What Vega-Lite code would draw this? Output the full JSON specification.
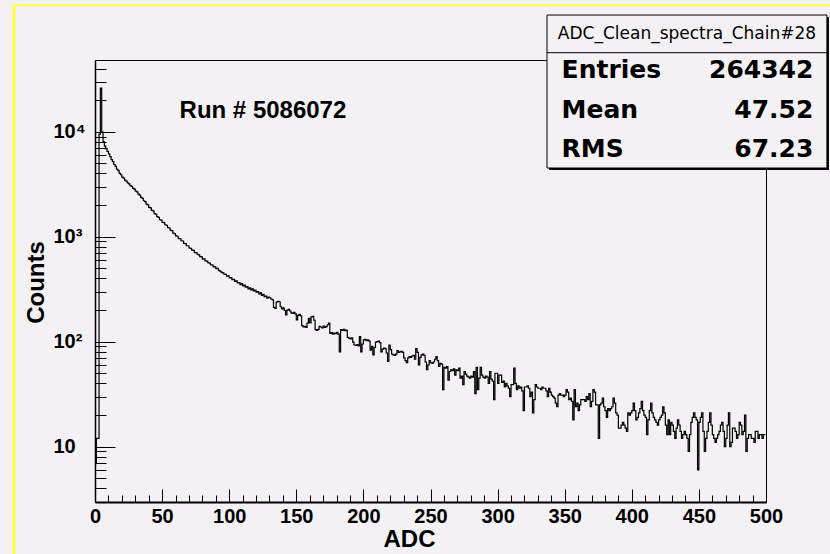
{
"$schema": "https://vega.github.io/schema/vega-lite/v6.json",
"width": 671,
"height": 442,
"autosize": {"type": "none"},
"padding": {"left": 95, "top": 60, "right": 64, "bottom": 52},
"background": "#f4f1f4",
"config": {"view": {"stroke": "black", "strokeWidth": 1, "fill": "#f4f1f4"}},
"datasets": {
"hist": [
{"adc":0.5,"counts":7},{"adc":1.5,"counts":12},{"adc":2.5,"counts":12},{"adc":3.5,"counts":9500},{"adc":4.5,"counts":26000},{"adc":5.5,"counts":9900},{"adc":6.5,"counts":8000},{"adc":7.5,"counts":7300},{"adc":8.5,"counts":6900},{"adc":9.5,"counts":6500},
{"adc":10.5,"counts":6150},{"adc":11.5,"counts":5780},{"adc":12.5,"counts":5420},{"adc":13.5,"counts":5190},{"adc":14.5,"counts":4870},{"adc":15.5,"counts":4680},{"adc":16.5,"counts":4400},{"adc":17.5,"counts":4250},{"adc":18.5,"counts":4010},{"adc":19.5,"counts":3890},
{"adc":20.5,"counts":3700},{"adc":21.5,"counts":3610},{"adc":22.5,"counts":3460},{"adc":23.5,"counts":3390},{"adc":24.5,"counts":3250},{"adc":25.5,"counts":3190},{"adc":26.5,"counts":3060},{"adc":27.5,"counts":3010},{"adc":28.5,"counts":2880},{"adc":29.5,"counts":2840},
{"adc":30.5,"counts":2720},{"adc":31.5,"counts":2670},{"adc":32.5,"counts":2540},{"adc":33.5,"counts":2490},{"adc":34.5,"counts":2370},{"adc":35.5,"counts":2320},{"adc":36.5,"counts":2200},{"adc":37.5,"counts":2160},{"adc":38.5,"counts":2040},{"adc":39.5,"counts":2010},
{"adc":40.5,"counts":1900},{"adc":41.5,"counts":1880},{"adc":42.5,"counts":1780},{"adc":43.5,"counts":1760},{"adc":44.5,"counts":1660},{"adc":45.5,"counts":1640},{"adc":46.5,"counts":1550},{"adc":47.5,"counts":1530},{"adc":48.5,"counts":1450},{"adc":49.5,"counts":1440},
{"adc":50.5,"counts":1370},{"adc":51.5,"counts":1360},{"adc":52.5,"counts":1300},{"adc":53.5,"counts":1280},{"adc":54.5,"counts":1220},{"adc":55.5,"counts":1210},{"adc":56.5,"counts":1150},{"adc":57.5,"counts":1140},{"adc":58.5,"counts":1080},{"adc":59.5,"counts":1070},
{"adc":60.5,"counts":1020},{"adc":61.5,"counts":1010},{"adc":62.5,"counts":960},{"adc":63.5,"counts":960},{"adc":64.5,"counts":915},{"adc":65.5,"counts":910},{"adc":66.5,"counts":865},{"adc":67.5,"counts":860},{"adc":68.5,"counts":820},{"adc":69.5,"counts":820},
{"adc":70.5,"counts":780},{"adc":71.5,"counts":775},{"adc":72.5,"counts":745},{"adc":73.5,"counts":740},{"adc":74.5,"counts":705},{"adc":75.5,"counts":705},{"adc":76.5,"counts":680},{"adc":77.5,"counts":670},{"adc":78.5,"counts":645},{"adc":79.5,"counts":642},
{"adc":80.5,"counts":612},{"adc":81.5,"counts":615},{"adc":82.5,"counts":588},{"adc":83.5,"counts":585},{"adc":84.5,"counts":565},{"adc":85.5,"counts":560},{"adc":86.5,"counts":538},{"adc":87.5,"counts":540},{"adc":88.5,"counts":515},{"adc":89.5,"counts":518},
{"adc":90.5,"counts":495},{"adc":91.5,"counts":498},{"adc":92.5,"counts":476},{"adc":93.5,"counts":470},{"adc":94.5,"counts":458},{"adc":95.5,"counts":452},{"adc":96.5,"counts":440},{"adc":97.5,"counts":438},{"adc":98.5,"counts":420},{"adc":99.5,"counts":424},
{"adc":100.5,"counts":405},{"adc":101.5,"counts":408},{"adc":102.5,"counts":390},{"adc":103.5,"counts":393},{"adc":104.5,"counts":376},{"adc":105.5,"counts":380},{"adc":106.5,"counts":362},{"adc":107.5,"counts":366},{"adc":108.5,"counts":350},{"adc":109.5,"counts":358},
{"adc":110.5,"counts":340},{"adc":111.5,"counts":345},{"adc":112.5,"counts":330},{"adc":113.5,"counts":335},{"adc":114.5,"counts":318},{"adc":115.5,"counts":326},{"adc":116.5,"counts":312},{"adc":117.5,"counts":318},{"adc":118.5,"counts":305},{"adc":119.5,"counts":310},
{"adc":120.5,"counts":296},{"adc":121.5,"counts":300},{"adc":122.5,"counts":285},{"adc":123.5,"counts":292},{"adc":124.5,"counts":276},{"adc":125.5,"counts":282},{"adc":126.5,"counts":268},{"adc":127.5,"counts":272},{"adc":128.5,"counts":260},{"adc":129.5,"counts":266},
{"adc":130.5,"counts":262},{"adc":131.5,"counts":255},{"adc":132.5,"counts":250},{"adc":133.5,"counts":212},{"adc":134.5,"counts":208},{"adc":135.5,"counts":238},{"adc":136.5,"counts":242},{"adc":137.5,"counts":240},{"adc":138.5,"counts":215},{"adc":139.5,"counts":205},
{"adc":140.5,"counts":210},{"adc":141.5,"counts":198},{"adc":142.5,"counts":180},{"adc":143.5,"counts":200},{"adc":144.5,"counts":203},{"adc":145.5,"counts":196},{"adc":146.5,"counts":188},{"adc":147.5,"counts":186},{"adc":148.5,"counts":190},{"adc":149.5,"counts":184},
{"adc":150.5,"counts":161},{"adc":151.5,"counts":178},{"adc":152.5,"counts":182},{"adc":153.5,"counts":176},{"adc":154.5,"counts":142},{"adc":155.5,"counts":138},{"adc":156.5,"counts":140},{"adc":157.5,"counts":137},{"adc":158.5,"counts":150},{"adc":159.5,"counts":167},
{"adc":160.5,"counts":151},{"adc":161.5,"counts":172},{"adc":162.5,"counts":174},{"adc":163.5,"counts":160},{"adc":164.5,"counts":130},{"adc":165.5,"counts":128},{"adc":166.5,"counts":131},{"adc":167.5,"counts":140},{"adc":168.5,"counts":138},{"adc":169.5,"counts":135},
{"adc":170.5,"counts":141},{"adc":171.5,"counts":137},{"adc":172.5,"counts":139},{"adc":173.5,"counts":145},{"adc":174.5,"counts":150},{"adc":175.5,"counts":120},{"adc":176.5,"counts":122},{"adc":177.5,"counts":118},{"adc":178.5,"counts":121},{"adc":179.5,"counts":119},
{"adc":180.5,"counts":123},{"adc":181.5,"counts":118},{"adc":182.5,"counts":80},{"adc":183.5,"counts":130},{"adc":184.5,"counts":128},{"adc":185.5,"counts":131},{"adc":186.5,"counts":127},{"adc":187.5,"counts":129},{"adc":188.5,"counts":110},{"adc":189.5,"counts":108},
{"adc":190.5,"counts":106},{"adc":191.5,"counts":109},{"adc":192.5,"counts":99},{"adc":193.5,"counts":93},{"adc":194.5,"counts":92},{"adc":195.5,"counts":94},{"adc":196.5,"counts":91},{"adc":197.5,"counts":112},{"adc":198.5,"counts":80},{"adc":199.5,"counts":95},
{"adc":200.5,"counts":104},{"adc":201.5,"counts":105},{"adc":202.5,"counts":102},{"adc":203.5,"counts":104},{"adc":204.5,"counts":101},{"adc":205.5,"counts":83},{"adc":206.5,"counts":90},{"adc":207.5,"counts":75},{"adc":208.5,"counts":88},{"adc":209.5,"counts":99},
{"adc":210.5,"counts":100},{"adc":211.5,"counts":101},{"adc":212.5,"counts":98},{"adc":213.5,"counts":80},{"adc":214.5,"counts":85},{"adc":215.5,"counts":87},{"adc":216.5,"counts":86},{"adc":217.5,"counts":78},{"adc":218.5,"counts":65},{"adc":219.5,"counts":93},
{"adc":220.5,"counts":84},{"adc":221.5,"counts":76},{"adc":222.5,"counts":75},{"adc":223.5,"counts":74},{"adc":224.5,"counts":76},{"adc":225.5,"counts":82},{"adc":226.5,"counts":79},{"adc":227.5,"counts":80},{"adc":228.5,"counts":81},{"adc":229.5,"counts":79},
{"adc":230.5,"counts":70},{"adc":231.5,"counts":66},{"adc":232.5,"counts":63},{"adc":233.5,"counts":70},{"adc":234.5,"counts":72},{"adc":235.5,"counts":71},{"adc":236.5,"counts":73},{"adc":237.5,"counts":74},{"adc":238.5,"counts":68},{"adc":239.5,"counts":86},
{"adc":240.5,"counts":79},{"adc":241.5,"counts":60},{"adc":242.5,"counts":71},{"adc":243.5,"counts":75},{"adc":244.5,"counts":76},{"adc":245.5,"counts":74},{"adc":246.5,"counts":64},{"adc":247.5,"counts":54},{"adc":248.5,"counts":60},{"adc":249.5,"counts":66},
{"adc":250.5,"counts":63},{"adc":251.5,"counts":62},{"adc":252.5,"counts":64},{"adc":253.5,"counts":68},{"adc":254.5,"counts":72},{"adc":255.5,"counts":66},{"adc":256.5,"counts":58},{"adc":257.5,"counts":62},{"adc":258.5,"counts":61},{"adc":259.5,"counts":35},
{"adc":260.5,"counts":57},{"adc":261.5,"counts":56},{"adc":262.5,"counts":58},{"adc":263.5,"counts":43},{"adc":264.5,"counts":52},{"adc":265.5,"counts":54},{"adc":266.5,"counts":53},{"adc":267.5,"counts":55},{"adc":268.5,"counts":48},{"adc":269.5,"counts":54},
{"adc":270.5,"counts":53},{"adc":271.5,"counts":56},{"adc":272.5,"counts":45},{"adc":273.5,"counts":47},{"adc":274.5,"counts":39},{"adc":275.5,"counts":52},{"adc":276.5,"counts":49},{"adc":277.5,"counts":47},{"adc":278.5,"counts":46},{"adc":279.5,"counts":45},
{"adc":280.5,"counts":47},{"adc":281.5,"counts":46},{"adc":282.5,"counts":52},{"adc":283.5,"counts":32},{"adc":284.5,"counts":57},{"adc":285.5,"counts":35},{"adc":286.5,"counts":45},{"adc":287.5,"counts":57},{"adc":288.5,"counts":48},{"adc":289.5,"counts":46},
{"adc":290.5,"counts":45},{"adc":291.5,"counts":47},{"adc":292.5,"counts":46},{"adc":293.5,"counts":40},{"adc":294.5,"counts":52},{"adc":295.5,"counts":44},{"adc":296.5,"counts":42},{"adc":297.5,"counts":28},{"adc":298.5,"counts":50},{"adc":299.5,"counts":50},
{"adc":300.5,"counts":40},{"adc":301.5,"counts":48},{"adc":302.5,"counts":48},{"adc":303.5,"counts":41},{"adc":304.5,"counts":42},{"adc":305.5,"counts":37},{"adc":306.5,"counts":40},{"adc":307.5,"counts":38},{"adc":308.5,"counts":36},{"adc":309.5,"counts":30},
{"adc":310.5,"counts":39},{"adc":311.5,"counts":39},{"adc":312.5,"counts":56},{"adc":313.5,"counts":40},{"adc":314.5,"counts":35},{"adc":315.5,"counts":38},{"adc":316.5,"counts":36},{"adc":317.5,"counts":37},{"adc":318.5,"counts":34},{"adc":319.5,"counts":22},
{"adc":320.5,"counts":37},{"adc":321.5,"counts":37},{"adc":322.5,"counts":38},{"adc":323.5,"counts":36},{"adc":324.5,"counts":30},{"adc":325.5,"counts":33},{"adc":326.5,"counts":21},{"adc":327.5,"counts":28},{"adc":328.5,"counts":39},{"adc":329.5,"counts":37},
{"adc":330.5,"counts":36},{"adc":331.5,"counts":36},{"adc":332.5,"counts":35},{"adc":333.5,"counts":37},{"adc":334.5,"counts":36},{"adc":335.5,"counts":36},{"adc":336.5,"counts":34},{"adc":337.5,"counts":30},{"adc":338.5,"counts":36},{"adc":339.5,"counts":33},
{"adc":340.5,"counts":31},{"adc":341.5,"counts":30},{"adc":342.5,"counts":29},{"adc":343.5,"counts":26},{"adc":344.5,"counts":24},{"adc":345.5,"counts":31},{"adc":346.5,"counts":32},{"adc":347.5,"counts":31},{"adc":348.5,"counts":31},{"adc":349.5,"counts":30},
{"adc":350.5,"counts":31},{"adc":351.5,"counts":35},{"adc":352.5,"counts":33},{"adc":353.5,"counts":28},{"adc":354.5,"counts":29},{"adc":355.5,"counts":27},{"adc":356.5,"counts":18},{"adc":357.5,"counts":35},{"adc":358.5,"counts":24},{"adc":359.5,"counts":26},
{"adc":360.5,"counts":22},{"adc":361.5,"counts":25},{"adc":362.5,"counts":28},{"adc":363.5,"counts":28},{"adc":364.5,"counts":28},{"adc":365.5,"counts":27},{"adc":366.5,"counts":30},{"adc":367.5,"counts":28},{"adc":368.5,"counts":32},{"adc":369.5,"counts":24},
{"adc":370.5,"counts":27},{"adc":371.5,"counts":35},{"adc":372.5,"counts":33},{"adc":373.5,"counts":25},{"adc":374.5,"counts":25},{"adc":375.5,"counts":12},{"adc":376.5,"counts":25},{"adc":377.5,"counts":26},{"adc":378.5,"counts":29},{"adc":379.5,"counts":24},
{"adc":380.5,"counts":22},{"adc":381.5,"counts":19},{"adc":382.5,"counts":23},{"adc":383.5,"counts":22},{"adc":384.5,"counts":23},{"adc":385.5,"counts":24},{"adc":386.5,"counts":29},{"adc":387.5,"counts":26},{"adc":388.5,"counts":21},{"adc":389.5,"counts":20},
{"adc":390.5,"counts":15},{"adc":391.5,"counts":15},{"adc":392.5,"counts":16},{"adc":393.5,"counts":17},{"adc":394.5,"counts":16},{"adc":395.5,"counts":15},{"adc":396.5,"counts":14},{"adc":397.5,"counts":21},{"adc":398.5,"counts":20},{"adc":399.5,"counts":21},
{"adc":400.5,"counts":22},{"adc":401.5,"counts":26},{"adc":402.5,"counts":22},{"adc":403.5,"counts":18},{"adc":404.5,"counts":19},{"adc":405.5,"counts":21},{"adc":406.5,"counts":23},{"adc":407.5,"counts":27},{"adc":408.5,"counts":22},{"adc":409.5,"counts":20},
{"adc":410.5,"counts":19},{"adc":411.5,"counts":13},{"adc":412.5,"counts":18},{"adc":413.5,"counts":22},{"adc":414.5,"counts":26},{"adc":415.5,"counts":21},{"adc":416.5,"counts":19},{"adc":417.5,"counts":18},{"adc":418.5,"counts":17},{"adc":419.5,"counts":16},
{"adc":420.5,"counts":18},{"adc":421.5,"counts":19},{"adc":422.5,"counts":20},{"adc":423.5,"counts":24},{"adc":424.5,"counts":21},{"adc":425.5,"counts":16},{"adc":426.5,"counts":13},{"adc":427.5,"counts":18},{"adc":428.5,"counts":13},{"adc":429.5,"counts":17},
{"adc":430.5,"counts":16},{"adc":431.5,"counts":14},{"adc":432.5,"counts":12},{"adc":433.5,"counts":15},{"adc":434.5,"counts":18},{"adc":435.5,"counts":16},{"adc":436.5,"counts":14},{"adc":437.5,"counts":12},{"adc":438.5,"counts":13},{"adc":439.5,"counts":14},
{"adc":440.5,"counts":13},{"adc":441.5,"counts":12},{"adc":442.5,"counts":9},{"adc":443.5,"counts":13},{"adc":444.5,"counts":17},{"adc":445.5,"counts":19},{"adc":446.5,"counts":21},{"adc":447.5,"counts":19},{"adc":448.5,"counts":18},{"adc":449.5,"counts":6},
{"adc":450.5,"counts":17},{"adc":451.5,"counts":19},{"adc":452.5,"counts":21},{"adc":453.5,"counts":14},{"adc":454.5,"counts":9},{"adc":455.5,"counts":12},{"adc":456.5,"counts":14},{"adc":457.5,"counts":17},{"adc":458.5,"counts":21},{"adc":459.5,"counts":16},
{"adc":460.5,"counts":13},{"adc":461.5,"counts":12},{"adc":462.5,"counts":11},{"adc":463.5,"counts":12},{"adc":464.5,"counts":13},{"adc":465.5,"counts":14},{"adc":466.5,"counts":16},{"adc":467.5,"counts":17},{"adc":468.5,"counts":14},{"adc":469.5,"counts":10},
{"adc":470.5,"counts":12},{"adc":471.5,"counts":16},{"adc":472.5,"counts":21},{"adc":473.5,"counts":10},{"adc":474.5,"counts":11},{"adc":475.5,"counts":15},{"adc":476.5,"counts":15},{"adc":477.5,"counts":14},{"adc":478.5,"counts":12},{"adc":479.5,"counts":13},
{"adc":480.5,"counts":17},{"adc":481.5,"counts":16},{"adc":482.5,"counts":13},{"adc":483.5,"counts":14},{"adc":484.5,"counts":20},{"adc":485.5,"counts":9},{"adc":486.5,"counts":12},{"adc":487.5,"counts":13},{"adc":488.5,"counts":13},{"adc":489.5,"counts":12},
{"adc":490.5,"counts":12},{"adc":491.5,"counts":11},{"adc":492.5,"counts":14},{"adc":493.5,"counts":14},{"adc":494.5,"counts":12},{"adc":495.5,"counts":13},{"adc":496.5,"counts":13},{"adc":497.5,"counts":12},{"adc":498.5,"counts":13},{"adc":499.5,"counts":13}
]
},
"layer": [
{
"data": {"values": [{}]},
"mark": {"type": "rule", "color": "#ffff40", "strokeWidth": 3},
"encoding": {
"x": {"datum": -60.4, "type": "quantitative", "axis": null},
"y": {"datum": 160000, "type": "quantitative", "axis": null},
"y2": {"datum": 0.9}
}
},
{
"data": {"values": [{}]},
"mark": {"type": "rule", "color": "#ffff40", "strokeWidth": 2},
"encoding": {
"x": {"datum": -61.5, "type": "quantitative", "axis": null},
"x2": {"datum": 560},
"y": {"datum": 160000, "type": "quantitative", "axis": null}
}
},
{
"data": {"name": "hist"},
"mark": {"type": "line", "interpolate": "step", "color": "black", "strokeWidth": 1.2},
"encoding": {
"x": {"field": "adc", "type": "quantitative",
"scale": {"domain": [0, 500], "nice": false, "zero": false},
"axis": {"orient": "bottom", "values": [0,50,100,150,200,250,300,350,400,450,500], "tickSize": -13, "tickColor": "black", "tickWidth": 1, "domainColor": "black", "domainWidth": 2, "grid": false, "labelFlush": false, "labelOverlap": false, "labelPadding": 17, "labelBaseline": "top", "labelFont": "Liberation Sans", "labelFontSize": 20, "labelFontWeight": "bold", "labelColor": "black", "title": "ADC", "titleFont": "Liberation Sans", "titleFontSize": 24, "titleFontWeight": "bold", "titleColor": "black", "titleX": 314, "titleY": 44, "titleAlign": "center", "titleBaseline": "alphabetic"}},
"y": {"field": "counts", "type": "quantitative",
"scale": {"type": "log", "domain": [2.97, 48200], "nice": false},
"axis": {"orient": "left", "values": [10, 100, 1000, 10000], "tickSize": -20, "tickColor": "black", "tickWidth": 1, "domainColor": "black", "domainWidth": 1.5, "grid": false, "labelFlush": false, "labelOverlap": false, "labelAlign": "left", "labelBaseline": "middle", "labelPadding": 62, "labelFont": "Liberation Sans", "labelFontSize": 20, "labelFontWeight": "bold", "labelColor": "black", "labelExpr": "datum.value == 10 ? '10' : datum.value == 100 ? '10²' : datum.value == 1000 ? '10³' : '10⁴'", "title": "Counts", "titleFont": "Liberation Sans", "titleFontSize": 24, "titleFontWeight": "bold", "titleColor": "black", "titleX": -52, "titleY": 222, "titleAngle": -90, "titleAlign": "center", "titleBaseline": "alphabetic"}}
}
},
{
"data": {"values": [{}]},
"mark": {"type": "text", "align": "left", "baseline": "alphabetic", "font": "Liberation Sans", "fontSize": 24, "fontWeight": "bold", "color": "black"},
"encoding": {
"x": {"datum": 63.0, "type": "quantitative", "axis": {"orient": "bottom", "values": [10,20,30,40,60,70,80,90,110,120,130,140,160,170,180,190,210,220,230,240,260,270,280,290,310,320,330,340,360,370,380,390,410,420,430,440,460,470,480,490], "tickSize": -7, "tickColor": "black", "tickWidth": 1, "labels": false, "domain": false, "grid": false, "title": null}},
"y": {"datum": 13600, "type": "quantitative", "axis": {"orient": "left", "values": [3,4,5,6,7,8,9,20,30,40,50,60,70,80,90,200,300,400,500,600,700,800,900,2000,3000,4000,5000,6000,7000,8000,9000,20000,30000,40000], "tickSize": -11, "tickColor": "black", "tickWidth": 1, "labels": false, "domain": false, "grid": false, "title": null}},
"text": {"value": "Run # 5086072"}
}
},
{
"data": {"values": [{}]},
"mark": {"type": "rect", "color": "black"},
"encoding": {
"x": {"datum": 338.3, "type": "quantitative", "axis": null},
"x2": {"datum": 546.9},
"y": {"datum": 123700, "type": "quantitative", "axis": null},
"y2": {"datum": 4315}
}
},
{
"data": {"values": [{}]},
"mark": {"type": "rect", "fill": "#f4f1f4", "stroke": "black", "strokeWidth": 1},
"encoding": {
"x": {"datum": 336.8, "type": "quantitative", "axis": null},
"x2": {"datum": 545.4},
"y": {"datum": 129220, "type": "quantitative", "axis": null},
"y2": {"datum": 4512}
}
},
{
"data": {"values": [{}]},
"mark": {"type": "rule", "color": "black", "strokeWidth": 1},
"encoding": {
"x": {"datum": 336.8, "type": "quantitative", "axis": null},
"x2": {"datum": 545.4},
"y": {"datum": 56550, "type": "quantitative", "axis": null}
}
},
{
"data": {"values": [{}]},
"mark": {"type": "text", "align": "center", "baseline": "alphabetic", "font": "DejaVu Sans", "fontSize": 17, "color": "black"},
"encoding": {
"x": {"datum": 441.1, "type": "quantitative", "axis": null},
"y": {"datum": 75900, "type": "quantitative", "axis": null},
"text": {"value": "ADC_Clean_spectra_Chain#28"}
}
},
{
"data": {"values": [{}]},
"mark": {"type": "text", "align": "left", "baseline": "alphabetic", "font": "DejaVu Sans", "fontSize": 25, "fontWeight": "bold", "color": "black"},
"encoding": {
"x": {"datum": 347.7, "type": "quantitative", "axis": null},
"y": {"datum": 32300, "type": "quantitative", "axis": null},
"text": {"value": "Entries"}
}
},
{
"data": {"values": [{}]},
"mark": {"type": "text", "align": "right", "baseline": "alphabetic", "font": "DejaVu Sans", "fontSize": 25, "fontWeight": "bold", "color": "black"},
"encoding": {
"x": {"datum": 535.3, "type": "quantitative", "axis": null},
"y": {"datum": 32300, "type": "quantitative", "axis": null},
"text": {"value": "264342"}
}
},
{
"data": {"values": [{}]},
"mark": {"type": "text", "align": "left", "baseline": "alphabetic", "font": "DejaVu Sans", "fontSize": 25, "fontWeight": "bold", "color": "black"},
"encoding": {
"x": {"datum": 347.7, "type": "quantitative", "axis": null},
"y": {"datum": 13420, "type": "quantitative", "axis": null},
"text": {"value": "Mean"}
}
},
{
"data": {"values": [{}]},
"mark": {"type": "text", "align": "right", "baseline": "alphabetic", "font": "DejaVu Sans", "fontSize": 25, "fontWeight": "bold", "color": "black"},
"encoding": {
"x": {"datum": 535.3, "type": "quantitative", "axis": null},
"y": {"datum": 13420, "type": "quantitative", "axis": null},
"text": {"value": "47.52"}
}
},
{
"data": {"values": [{}]},
"mark": {"type": "text", "align": "left", "baseline": "alphabetic", "font": "DejaVu Sans", "fontSize": 25, "fontWeight": "bold", "color": "black"},
"encoding": {
"x": {"datum": 347.7, "type": "quantitative", "axis": null},
"y": {"datum": 5780, "type": "quantitative", "axis": null},
"text": {"value": "RMS"}
}
},
{
"data": {"values": [{}]},
"mark": {"type": "text", "align": "right", "baseline": "alphabetic", "font": "DejaVu Sans", "fontSize": 25, "fontWeight": "bold", "color": "black"},
"encoding": {
"x": {"datum": 535.3, "type": "quantitative", "axis": null},
"y": {"datum": 5780, "type": "quantitative", "axis": null},
"text": {"value": "67.23"}
}
}
],
"resolve": {"axis": {"x": "independent", "y": "independent"}}
}
